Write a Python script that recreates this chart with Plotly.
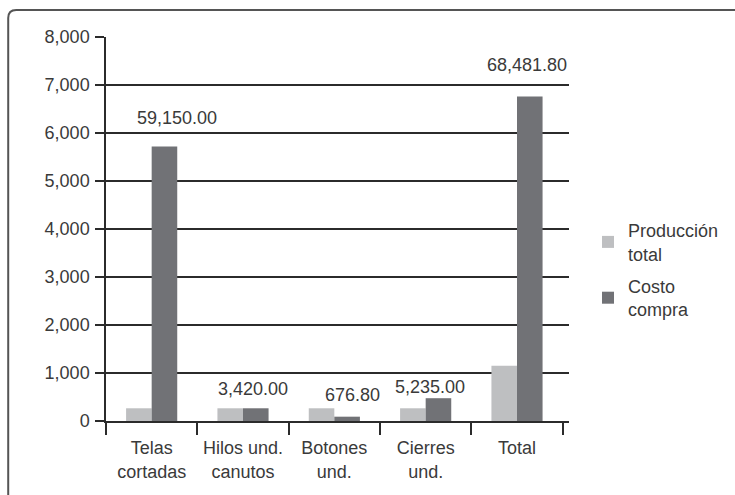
import plotly.graph_objects as go

# Categories and series
categorias = ["Telas<br>cortadas", "Hilos und.<br>canutos", "Botones<br>und.", "Cierres<br>und.", "Total"]
produccion_total = [265, 265, 265, 265, 1150]
costo_compra = [5720, 265, 90, 475, 6760]
etiquetas_costo = ["59,150.00", "3,420.00", "676.80", "5,235.00", "68,481.80"]
y_ticks = [0, 1000, 2000, 3000, 4000, 5000, 6000, 7000, 8000]
y_tick_text = ["0", "1,000", "2,000", "3,000", "4,000", "5,000", "6,000", "7,000", "8,000"]

# Figure geometry (pixels)
W, H = 735, 495
L, R, T, B = 106, 165, 37, 74
PW, PH = W - L - R, H - T - B

FONT = "Liberation Sans, Arial, sans-serif"
TXT = "#3a3a3a"
GRID = "#2b2b2b"

# Offsets of the value labels from the top of each category's tallest bar
label_dx = [25, 10, 18, 4, 10]
label_dy = [28, 19, 13, 11, 32]


def px_x(x):
    return (x - L) / PW


def px_y(y):
    return (H - B - y) / PH


fig = go.Figure()
fig.add_trace(go.Bar(
    x=categorias, y=produccion_total, name="Producción<br>total",
    marker=dict(color="#bebfc1", line=dict(width=0)), legendgroup="a",
))
fig.add_trace(go.Bar(
    x=categorias, y=costo_compra, name="Costo<br>compra",
    marker=dict(color="#717276", line=dict(width=0)), legendgroup="b",
))

annotations = []
for i, cat in enumerate(categorias):
    top = max(produccion_total[i], costo_compra[i])
    annotations.append(dict(
        x=cat, y=top, xref="x", yref="y", text=etiquetas_costo[i],
        showarrow=False, xanchor="center", yanchor="middle",
        xshift=label_dx[i], yshift=label_dy[i],
        font=dict(family=FONT, size=18, color=TXT),
    ))

# Outer frame: left and top edges with a rounded corner
frame_path = (
    f"M {px_x(8)},{px_y(500)} L {px_x(8)},{px_y(18)} "
    f"Q {px_x(8)},{px_y(10)} {px_x(16)},{px_y(10)} L {px_x(740)},{px_y(10)}"
)

fig.update_layout(
    width=W, height=H,
    margin=dict(l=L, r=R, t=T, b=B, pad=0),
    paper_bgcolor="white", plot_bgcolor="white",
    barmode="group", bargap=0.44, bargroupgap=0,
    font=dict(family=FONT, size=18, color=TXT),
    showlegend=True,
    legend=dict(
        x=px_x(588), y=px_y(212), xanchor="left", yanchor="top",
        font=dict(family=FONT, size=18, color=TXT),
        tracegroupgap=6, bgcolor="rgba(0,0,0,0)", itemwidth=30,
    ),
    annotations=annotations,
    shapes=[dict(type="path", path=frame_path, xref="paper", yref="paper",
                 line=dict(color="#555555", width=2))],
    xaxis=dict(
        showgrid=False, showline=True, linecolor=GRID, linewidth=1.5,
        ticks="outside", tickson="boundaries", ticklen=12, tickcolor=GRID, tickwidth=1.5,
        tickfont=dict(family=FONT, size=18, color=TXT),
        ticklabelstandoff=10,
        fixedrange=True,
    ),
    yaxis=dict(
        range=[0, 8000], tickvals=y_ticks, ticktext=y_tick_text,
        showgrid=True, gridcolor=GRID, gridwidth=1.5,
        showline=True, linecolor=GRID, linewidth=1.5,
        ticks="outside", ticklen=9, tickcolor=GRID, tickwidth=1.5,
        tickfont=dict(family=FONT, size=18, color=TXT),
        ticklabelstandoff=2,
        zeroline=False, fixedrange=True,
    ),
)

fig.write_html("out.html")
